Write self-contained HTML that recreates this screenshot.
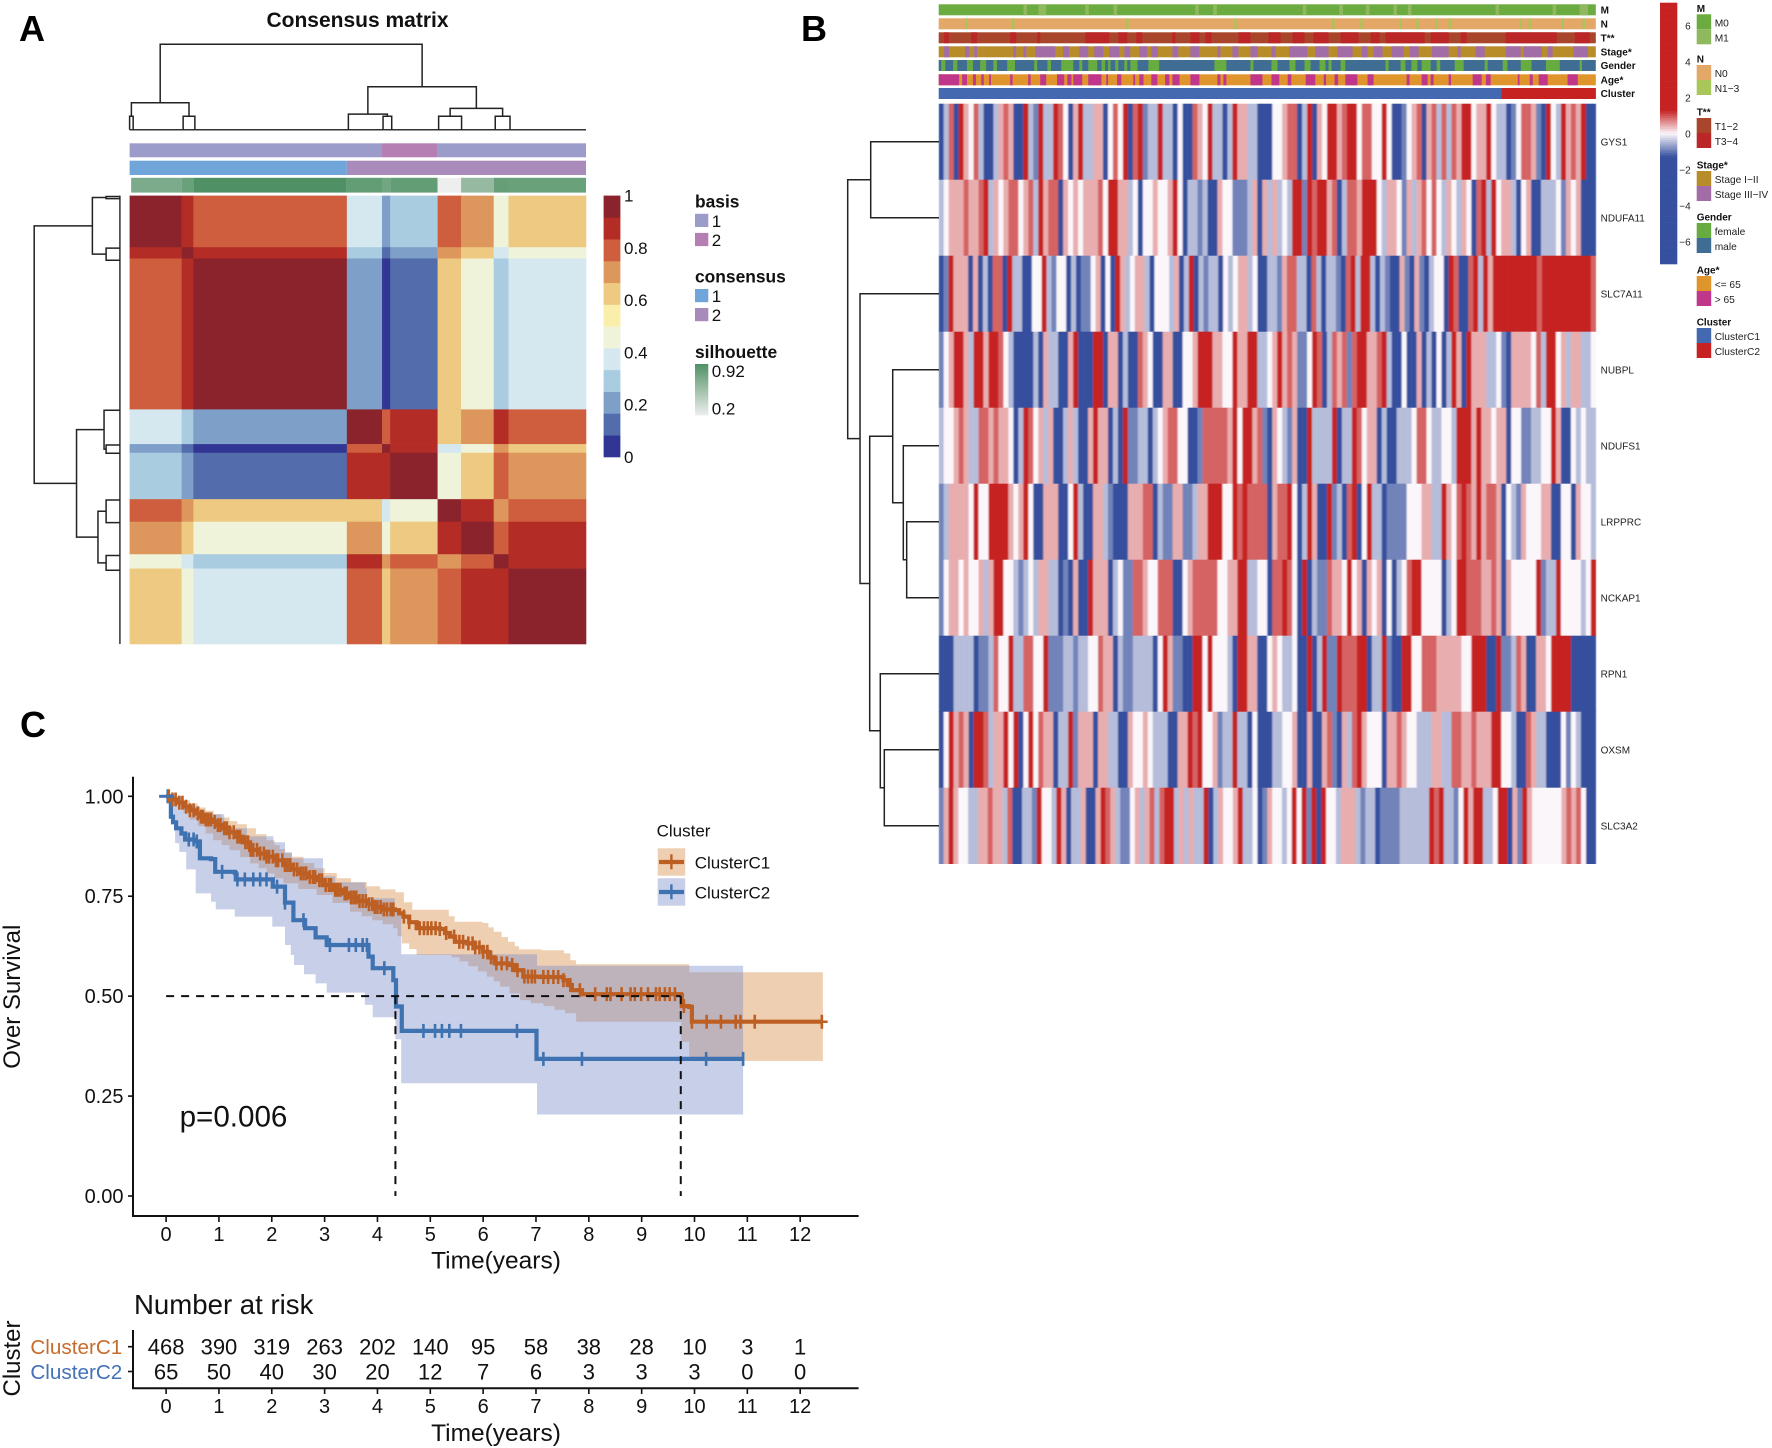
<!DOCTYPE html>
<html lang="en">
<head>
<meta charset="utf-8">
<title>Consensus clustering, heatmap and survival figure</title>
<style>
html,body{margin:0;padding:0;background:#fff;}
svg{display:block;}
text{font-family:"Liberation Sans",sans-serif;fill:#111;}
</style>
</head>
<body>
<svg id="figure" xmlns="http://www.w3.org/2000/svg" width="1772" height="1448" viewBox="0 0 1772 1448">
  <defs>
    <linearGradient id="silGrad" x1="0" y1="0" x2="0" y2="1">
      <stop offset="0" stop-color="#4f9164"/><stop offset="1" stop-color="#eeeeee"/>
    </linearGradient>
    <filter id="softX" x="0" y="0" width="1" height="1">
      <feGaussianBlur stdDeviation="0.8 0"/>
    </filter>
  </defs>
  <rect x="0" y="0" width="1772" height="1448" fill="#ffffff"/>
</svg>
<script>
/* ===== Panel A data ===== */
const blockEdgesX = [254,356,379,680,749,765,858,904,968,997,1149];
const blockEdgesY = [451,570,596,944,1024,1044,1151,1203,1278,1311,1485];
const consensusMatrix = [
 [.96,.875,.79,.375,.21,.29,.79,.71,.46,.625],
 [.875,.96,.875,.29,.125,.21,.71,.625,.375,.46],
 [.79,.875,.96,.21,.04,.125,.625,.46,.29,.375],
 [.375,.29,.21,.96,.79,.875,.625,.71,.875,.79],
 [.21,.125,.04,.79,.96,.875,.375,.46,.71,.625],
 [.29,.21,.125,.875,.875,.96,.46,.625,.79,.71],
 [.79,.71,.625,.625,.375,.46,.96,.875,.71,.79],
 [.71,.625,.46,.71,.46,.625,.875,.96,.79,.875],
 [.46,.375,.29,.875,.71,.79,.71,.79,.96,.875],
 [.625,.46,.375,.79,.625,.71,.79,.875,.875,.96]
];
const consensusPalette = ["#313695","#536cab","#7d9fc8","#a9cce0","#d5e7ef","#eff3d9","#faefaa","#edc981","#dd975c","#ce5e3e","#b32c25","#8a232b"];
const consensusTicks = [0,0.2,0.4,0.6,0.8,1];
const basisSegments = [[254,749,1],[749,858,2],[858,1149,1]];
const consensusSegments = [[254,680,1],[680,1149,2]];
const silhouetteSegments = [[257,356,.72],[356,379,.8],[379,680,.92],[680,749,.83],[749,765,.76],[765,858,.83],[858,904,.2],[904,968,.6],[968,997,.82],[997,1149,.8]];
const topLeaves = [254,261,359,382,683,751,768,860,905,971,1000];
const topMerges = [[-0,-1,.157],[-2,-3,.157],[0,1,.315],[-5,-6,.157],[-4,3,.183],[-7,-8,.157],[-9,-10,.157],[5,6,.249],[4,7,.503],[2,8,1]];
const leftLeaves = [453,458,572,600,946,1026,1045,1153,1205,1281,1315];
const leftMerges = [[-0,-1,.161],[-2,-3,.161],[0,1,.321],[-5,-6,.161],[-4,3,.185],[-7,-8,.161],[-9,-10,.161],[5,6,.256],[4,7,.506],[2,8,1]];

/* ===== Panel B data ===== */
const geneNames = ["GYS1","NDUFA11","SLC7A11","NUBPL","NDUFS1","LRPPRC","NCKAP1","RPN1","OXSM","SLC3A2"];
const exprGYS1 = [-3,-1,2,-3,3,1,0,2,-1,-3,-3,-1,1,2,1,-3,-3,3,-1,-2,3,-1,-1,3,2,0,-3,1,3,-1,-1,1,1,-3,0,2,0,3,-3,2,3,-2,-1,-1,3,-1,-1,-3,0,-3,-3,2,1,0,3,-1,-1,-3,-1,3,1,1,-1,-1,-3,-3,
 -3,0,0,1,2,2,-3,-1,3,-3,1,0,3,3,1,2,3,3,0,2,2,0,0,3,0,-3,-3,-2,0,1,2,-3,1,2,-1,2,-1,2,1,3,3,0,1,1,3,0,-1,-1,-3,-2,0,2,2,1,-2,-3,3,0,-1,3,1,2,1,3,-3,-3];
const exprNDUFA11 = [-1,0,1,1,1,2,1,1,2,3,-1,1,0,1,2,2,0,1,2,-1,3,1,2,2,-3,1,0,1,0,1,1,1,2,0,3,3,1,1,-1,0,-3,0,0,1,0,0,1,3,0,-3,-1,-1,-2,-1,-3,-3,1,0,0,-2,-2,-2,-1,1,-3,1,
 -1,1,-1,0,-1,3,3,-2,3,2,3,3,1,2,-3,-1,2,2,1,3,3,3,0,-1,1,1,0,-2,1,-1,1,2,0,2,0,-1,1,0,-1,1,0,-3,2,3,-1,3,0,1,1,-1,-3,0,1,-3,-3,-1,-1,-1,0,-2,1,0,1,-3,-3,-3];
const exprSLC7A11 = [-3,-2,3,1,1,1,-3,1,-3,-1,-3,2,2,-3,3,-1,-1,-3,-3,0,0,3,-1,-2,0,0,-3,-1,-3,-2,-2,0,1,-3,0,-3,3,1,-1,0,1,1,-1,-3,0,0,0,-1,1,-3,-1,3,-3,-1,-2,-1,-1,-3,0,-1,0,1,1,-1,0,-3,
 -3,-1,-1,-2,1,2,2,-1,-1,-3,2,-1,-3,-1,-1,-2,-3,2,3,-1,3,3,-1,-3,-1,-2,-3,-3,1,-2,-3,1,-2,-3,-1,0,0,-3,3,2,-3,-3,2,3,-1,3,1,3,3,3,3,3,3,3,3,3,2,3,3,3,3,3,3,3,3,3,3,2];
const exprNUBPL = [-2,0,1,3,3,1,-1,3,3,1,3,3,2,0,-1,-3,-3,-3,-3,-1,-3,1,-1,-1,-3,-3,1,3,-3,-3,-3,3,3,-3,1,1,-3,-1,-3,-3,2,1,0,-3,-3,1,1,-3,-3,0,0,1,3,3,3,1,1,0,0,3,1,1,3,3,-1,-1,
 0,1,3,1,2,1,-2,-2,0,3,2,-3,-1,2,1,2,-2,2,3,3,1,1,2,3,-1,-3,-3,0,-3,-3,1,-3,-1,-3,0,-3,-1,3,1,-3,3,1,1,1,-1,-1,0,-2,-3,1,1,1,1,0,2,-1,3,3,0,1,-1,1,1,-1,-1,0];
const exprNDUFS1 = [-1,0,0,1,2,1,-1,-1,2,2,1,2,1,1,0,-3,-1,3,2,0,1,-1,1,-3,-3,-1,1,-1,-3,-3,1,3,1,1,-3,-1,-3,3,-2,-2,-1,-1,-3,-1,0,1,2,2,0,0,-3,-3,-2,2,2,2,2,2,1,3,0,3,3,1,2,-2,
 -3,1,0,-1,-2,1,-3,-3,3,-1,-1,-1,-1,3,-3,-1,-1,3,2,0,1,1,-3,-1,-3,-3,-1,-1,-1,0,2,2,0,-1,-1,0,0,-1,3,3,3,1,3,1,1,0,1,1,-3,0,0,-2,-2,-1,-1,0,0,3,1,-3,-3,0,-1,0,-1,-1];
const exprLRPPRC = [-2,-1,1,1,1,1,0,3,0,0,3,3,3,3,1,0,1,3,0,-3,-3,1,1,1,-3,-3,0,3,-1,-3,-3,1,1,-1,-2,-3,-3,-3,1,1,1,2,2,-3,-1,-2,-2,1,1,-2,-2,-1,1,1,3,3,3,0,0,3,2,3,2,2,2,2,
 -3,1,2,2,3,0,-3,-1,3,1,-3,-3,3,-2,-1,-3,2,3,-3,0,3,-1,-1,-3,-2,-2,-2,-2,0,0,0,1,1,-1,-1,3,1,0,2,3,2,1,3,1,2,2,1,-3,0,-1,-2,1,0,0,0,1,1,-3,-3,0,0,-3,1,0,0,-1];
const exprNCKAP1 = [-2,0,1,1,0,1,0,0,1,-1,1,3,3,0,0,-1,-2,-1,0,-1,1,1,-1,-1,-3,-2,-3,1,-3,-3,3,1,1,1,-3,-1,0,-2,-2,2,2,1,0,0,2,2,2,-3,-3,0,1,2,2,2,2,2,0,0,1,1,3,3,-1,-1,0,0,
 -3,2,2,3,2,0,-3,3,-3,-1,-2,-2,2,1,1,0,3,0,1,-3,1,0,1,-3,0,-3,-1,0,2,3,3,0,0,0,0,-3,-1,0,3,3,2,2,2,1,1,2,1,-3,1,0,0,0,0,0,3,-2,-1,-1,3,0,0,0,0,-1,0,3];
const exprRPN1 = [-3,-3,-3,-1,-1,-1,-1,-3,-2,-2,-1,2,0,0,3,-1,-1,2,2,0,0,3,-2,-2,-2,-1,-1,-2,-1,-1,0,0,2,1,1,-3,-1,-2,-2,-1,-1,-1,-1,-3,0,3,1,-2,-2,-3,-3,3,3,0,3,0,0,0,-1,-3,3,3,1,1,-3,-3,
 0,1,0,-1,-1,0,-3,-3,3,-3,-1,3,-2,-2,3,2,2,2,3,3,-3,-1,-1,3,-2,-3,-3,3,3,0,0,2,2,2,1,1,1,1,1,0,0,3,3,3,-3,-3,3,-2,-2,-1,2,1,-3,-3,1,1,0,3,3,3,3,-3,-3,-3,-3,-3];
const exprOXSM = [-3,0,3,1,2,1,-3,3,3,2,-1,1,1,3,0,3,-3,0,3,0,2,1,1,-3,-1,-1,3,-2,1,1,1,-3,1,1,-1,-1,-3,-3,1,0,0,1,0,-1,-1,-1,-3,-3,1,1,3,2,3,0,0,1,-2,-1,-1,3,-1,-1,-3,0,-3,-3,
 -3,-1,-1,0,0,1,-3,-3,1,-3,-3,1,2,-2,-3,1,-1,2,3,1,0,0,0,-3,1,1,2,1,0,0,-1,-1,-1,1,1,-1,-1,2,2,1,1,2,1,1,1,3,3,0,0,-1,-3,-3,2,1,-1,-1,-3,-3,-3,0,-2,0,-1,-3,-3,-3];
const exprSLC3A2 = [-2,1,3,1,0,0,-1,-1,1,1,2,1,1,-1,2,-3,-3,-1,-1,-2,3,0,0,-1,3,1,-3,-1,-1,1,-3,-3,1,3,2,1,-1,-2,-2,0,1,-1,1,2,-1,2,3,3,-1,1,-1,1,-1,-1,3,-3,-1,1,0,0,1,3,-1,-1,0,-3,
 -2,1,0,0,-1,0,3,0,3,-2,3,-3,3,0,0,-1,1,1,1,-1,-2,-1,-1,-3,-2,-2,-2,-2,-1,-1,-1,-1,-1,-1,3,2,3,-1,-1,-2,0,3,1,3,3,-1,-1,0,3,3,-3,1,-2,3,1,0,0,0,0,0,0,1,2,1,2,0,-3,-3];
const exprRows = [exprGYS1,exprNDUFA11,exprSLC7A11,exprNUBPL,exprNDUFS1,exprLRPPRC,exprNCKAP1,exprRPN1,exprOXSM,exprSLC3A2];
const geneMerges = [[-0,-1,.748],[-5,-6,.354],[-4,1,.391],[-3,2,.507],[-8,-9,.599],[-7,4,.643],[3,5,.759],[-2,6,.865],[0,7,1]];
const exprTicks = [6,4,2,0,-2,-4,-6];

const annotM1 = [[322,328],[347,360],[425,431],[472,478],[608,614],[638,644],[787,793],[848,854],[892,898],[938,944],[962,968],[1108,1114],[1203,1209],[1248,1262]];
const annotN13 = [[225,229],[303,307],[493,497],[673,677],[836,840],[883,887],[948,952],[976,980],[1008,1012],[1030,1034],[1148,1152],[1163,1167],[1218,1222],[1253,1257]];
const annotT34 = [[190,198],[235,245],[300,310],[345,350],[425,465],[480,495],[510,520],[570,575],[600,615],[625,635],[680,700],[730,750],[770,790],[805,830],[850,880],[900,915],[925,990],[1000,1030],[1050,1060],[1125,1210],[1240,1265]];
const annotStage34 = [[190,198],[225,232],[240,245],[305,310],[322,327],[342,375],[388,398],[415,430],[440,455],[465,482],[490,500],[515,528],[535,546],[570,580],[600,615],[645,650],[670,680],[700,712],[735,742],[765,795],[808,830],[845,870],[885,895],[905,920],[935,955],[965,980],[1002,1030],[1045,1050],[1075,1090],[1125,1150],[1155,1185],[1195,1203],[1238,1262]];
const annotFemale = [[185,192],[205,212],[228,238],[250,260],[272,278],[295,308],[340,345],[362,368],[385,405],[415,420],[430,445],[452,458],[463,467],[475,480],[490,495],[500,512],[530,548],[640,660],[700,705],[735,745],[765,775],[790,800],[815,825],[830,835],[850,858],[925,930],[950,958],[968,978],[985,1000],[1010,1016],[1040,1055],[1090,1095],[1120,1128],[1150,1168],[1192,1215],[1248,1252]];
const annotOld = [[181,215],[220,228],[238,243],[252,256],[265,268],[300,304],[330,334],[350,360],[378,390],[395,402],[405,420],[430,452],[460,463],[478,485],[505,508],[515,522],[535,545],[558,565],[570,582],[600,615],[645,650],[655,660],[700,720],[735,748],[762,768],[792,808],[822,826],[840,846],[858,878],[895,905],[960,965],[985,995],[1000,1005],[1030,1034],[1070,1085],[1092,1100],[1145,1148],[1165,1170],[1180,1195],[1228,1245]];
const annotC2 = [[1118,1275]];
const annotNames = ["M","N","T**","Stage*","Gender","Age*","Cluster"];
const annotLevels = [annotM1,annotN13,annotT34,annotStage34,annotFemale,annotOld,annotC2];
const annotBaseColors = ["#6cab3f","#e3a767","#a9452a","#b98c2a","#3f6d94","#e0952c","#4569b0"];
const annotMinorColors = ["#8fb85f","#a9c65a","#bb2626","#a26ca6","#68ab40","#c0368a","#c62222"];
const legendGroups = [["M",["M0","M1"],["#6cab3f","#8fb85f"]],["N",["N0","N1\u22123"],["#e3a767","#a9c65a"]],["T**",["T1\u22122","T3\u22124"],["#a9452a","#bb2626"]],["Stage*",["Stage I\u2212II","Stage III\u2212IV"],["#b98c2a","#a26ca6"]],["Gender",["female","male"],["#68ab40","#3f6d94"]],["Age*",["<= 65","> 65"],["#e0952c","#c0368a"]],["Cluster",["ClusterC1","ClusterC2"],["#4569b0","#c62222"]]];
const legendTitleY = [8.3,59,112,165,217,270,322];

/* ===== Panel C data ===== */
const c1Times = [0,.1,.2,.33,.45,.55,.64,.75,.86,.95,1.05,1.2,1.34,1.45,1.59,1.75,1.9,2.05,2.22,2.38,2.53,2.7,2.85,3.0,3.16,3.32,3.48,3.64,3.8,3.95,4.11,4.33,4.41,4.49,4.6,4.74,5.18,5.28,5.37,5.47,5.69,5.85,6.0,6.1,6.22,6.48,6.6,6.76,7.08,7.52,7.6,7.68,7.87,9.74,9.76,9.9,9.95,12.41];
const c1Surv = [1,.992,.984,.974,.965,.957,.949,.942,.936,.928,.92,.91,.899,.885,.866,.857,.849,.84,.828,.817,.807,.798,.79,.778,.766,.757,.747,.738,.73,.723,.717,.715,.707,.699,.685,.67,.668,.658,.649,.636,.632,.622,.611,.597,.582,.578,.565,.549,.548,.54,.528,.515,.505,.503,.475,.473,.436,.436];
const c1UpperTimes = [0,.15,.3,.45,.6,.75,.9,1.05,1.2,1.35,1.53,1.7,1.9,2.05,2.15,2.25,2.38,2.6,2.8,3.0,3.23,3.5,3.8,4.05,4.34,4.5,4.66,5.25,5.35,5.46,5.99,6.1,6.2,6.35,6.47,6.6,6.68,7.1,7.53,7.65,7.76,9.74,9.9,12.43];
const c1Upper = [1,.997,.99,.982,.972,.964,.955,.947,.938,.93,.92,.905,.89,.878,.868,.858,.849,.833,.82,.808,.795,.785,.775,.767,.76,.735,.716,.716,.70,.686,.683,.672,.661,.648,.636,.625,.617,.615,.607,.59,.58,.58,.56,.56];
const c1LowerTimes = [0,.15,.33,.45,.6,.75,.89,1.05,1.2,1.4,1.59,1.75,1.9,2.05,2.22,2.5,2.85,3.15,3.48,3.7,3.9,4.1,4.3,4.38,4.46,4.6,4.74,5.25,5.4,5.55,5.72,5.9,6.07,6.2,6.32,6.5,6.7,6.9,7.14,7.35,7.55,7.76,9.75,9.9,12.43];
const c1Lower = [1,.98,.958,.942,.925,.907,.89,.878,.865,.848,.832,.82,.807,.795,.782,.768,.753,.733,.711,.70,.69,.68,.67,.65,.632,.618,.603,.603,.597,.587,.575,.562,.549,.537,.524,.507,.49,.482,.475,.466,.457,.436,.386,.338,.338];
const c2Times = [0,.09,.13,.19,.29,.36,.55,.64,.85,.93,1.3,1.32,1.97,2.02,2.25,2.38,2.41,2.63,2.83,3.04,3.83,3.91,4.30,4.35,4.46,7.01,10.92];
const c2Surv = [1,.949,.935,.92,.907,.892,.887,.845,.843,.811,.808,.792,.792,.774,.734,.734,.69,.67,.647,.628,.599,.57,.54,.474,.413,.343,.343];
const c2UpperTimes = [0,.29,.64,1.1,1.53,2.03,2.25,2.38,2.97,3.2,3.77,3.8,4.33,4.45,7.02,10.92];
const c2Upper = [1,.975,.955,.92,.9,.885,.86,.845,.80,.785,.77,.745,.71,.605,.576,.576];
const c2LowerTimes = [0,.09,.17,.25,.38,.56,.65,.85,.94,1.3,2.01,2.25,2.36,2.42,2.61,2.83,3.04,3.76,3.91,4.34,4.45,7.02,10.92];
const c2Lower = [1,.95,.883,.861,.817,.757,.757,.736,.717,.699,.674,.628,.603,.578,.555,.532,.509,.478,.447,.392,.282,.204,.204];
const c1Censor = [.05,.12,.18,.25,.31,.38,.45,.52,.6,.66,.7,.75,.8,.85,.92,.98,1.03,1.1,1.15,1.2,1.28,1.35,1.4,1.5,1.55,1.6,1.65,1.72,1.78,1.85,1.9,1.95,2.02,2.08,2.12,2.2,2.25,2.3,2.35,2.42,2.48,2.55,2.6,2.65,2.72,2.78,2.82,2.9,2.95,3.02,3.08,3.12,3.2,3.25,3.3,3.38,3.42,3.5,3.55,3.6,3.66,3.72,3.78,3.84,3.9,3.95,4.0,4.06,4.12,4.18,4.25,4.3,4.5,4.6,4.8,4.88,4.95,5.02,5.1,5.18,5.3,5.45,5.55,5.62,5.72,5.8,5.85,5.93,6.0,6.08,6.15,6.25,6.35,6.45,6.55,6.65,6.78,6.85,6.92,6.98,7.14,7.23,7.33,7.42,7.52,7.65,7.83,8.12,8.34,8.41,8.62,8.79,8.87,8.99,9.12,9.27,9.34,9.44,9.53,9.63,9.8,9.95,10.23,10.5,10.78,10.87,11.14,12.41];
const c2Censor = [.03,.43,.52,.58,1.06,1.35,1.49,1.65,1.78,1.9,2.1,2.25,2.6,3.1,3.46,3.59,3.72,3.8,4.13,4.87,5.09,5.22,5.36,5.58,6.64,7.14,7.87,10.22,10.92];
const medianTimes = [4.34,9.74];
const xTicks = [0,1,2,3,4,5,6,7,8,9,10,11,12];
const yTicks = [0,.25,.5,.75,1];
const riskC1 = [468,390,319,263,202,140,95,58,38,28,10,3,1];
const riskC2 = [65,50,40,30,20,12,7,6,3,3,3,0,0];

/* ===== Helpers ===== */
const SVGNS = "http://www.w3.org/2000/svg";
const root = document.getElementById("figure");
function mk(tag, attrs, parent){
  const e = document.createElementNS(SVGNS, tag);
  for(const k in attrs){ e.setAttribute(k, attrs[k]); }
  (parent || root).appendChild(e);
  return e;
}
function group(parent){ return mk("g", {}, parent); }
function lineEl(p,x1,y1,x2,y2,stroke,w,dash){
  const a = {x1:x1,y1:y1,x2:x2,y2:y2,stroke:stroke,"stroke-width":w};
  if(dash){ a["stroke-dasharray"] = dash; }
  return mk("line", a, p);
}
function rectEl(p,x,y,w,h,fill){ return mk("rect",{x:x,y:y,width:w,height:h,fill:fill},p); }
function textEl(p,x,y,s,size,anchor,weight,fill){
  const t = mk("text",{x:x,y:y,"font-size":size,"text-anchor":anchor||"start","font-weight":weight||"normal"},p);
  if(fill){ t.style.fill = fill; }
  t.textContent = s;
  return t;
}
function drawDendro(p, leaves, merges, project, name){
  const centers = [];
  const heights = [];
  function info(i){ return i<0 || Object.is(i,-0) ? [leaves[-i],0] : [centers[i],heights[i]]; }
  merges.forEach(function(m){
    const a = info(m[0]), b = info(m[1]);
    const pts = [project(a[0],a[1]),project(a[0],m[2]),project(b[0],m[2]),project(b[0],b[1])];
    const pl = mk("polyline",{points:pts.map(function(q){return q.join(",");}).join(" "),fill:"none",stroke:"#222","stroke-width":1.5},p);
    
    
    centers.push((a[0]+b[0])/2);
    heights.push(m[2]);
  });
}

/* ===== Panel letters ===== */
[["A",19,41],["B",801,41],["C",20,737]].forEach(function(d){
  const t = textEl(root,d[1],d[2],d[0],36,"start","bold","#000");
  
  
});

/* ===== Panel A ===== */
const gA = group();


const ax = function(r){ return 129.6 + (r-254)*456.4/895; };
const ay = function(r){ return 195.6 + (r-451)*448.4/1034; };
function levelColor(v){ return consensusPalette[Math.min(11,Math.floor(v*12))]; }

const titleA = textEl(gA,357.5,27,"Consensus matrix",21,"middle","bold","#111");



consensusMatrix.forEach(function(row,i){
  row.forEach(function(v,j){
    const c = rectEl(gA,ax(blockEdgesX[j]),ay(blockEdgesY[i]),ax(blockEdgesX[j+1])-ax(blockEdgesX[j])+.3,ay(blockEdgesY[i+1])-ay(blockEdgesY[i])+.3,levelColor(v));
    
    
  });
});

basisSegments.forEach(function(s){
  const r = rectEl(gA,ax(s[0]),143.3,ax(s[1])-ax(s[0]),14,s[2]===1?"#9c9ccb":"#b57fb4");
  
  
});
consensusSegments.forEach(function(s){
  const r = rectEl(gA,ax(s[0]),160.7,ax(s[1])-ax(s[0]),14.3,s[2]===1?"#70a5da":"#a98bbb");
  
  
});
function silColor(v){
  const t = (v-0.2)/0.72;
  const a=[238,238,238], b=[79,145,100];
  return "rgb("+a.map(function(c,i){return Math.round(c+(b[i]-c)*t);}).join(",")+")";
}
silhouetteSegments.forEach(function(s){
  const r = rectEl(gA,ax(s[0]),177.8,ax(s[1])-ax(s[0]),14.8,silColor(s[2]));
  
  
});

const topBase = lineEl(gA,ax(254),129.7,ax(1149),129.7,"#333",1.5);


const leftBase = lineEl(gA,119.9,195.6,119.9,644,"#333",1.5);


drawDendro(gA,topLeaves,topMerges,function(pos,h){ return [ax(pos),129.7-h*85.4]; },'top-dendrogram-branch');
drawDendro(gA,leftLeaves,leftMerges,function(pos,h){ return [119.9-h*85.7,ay(pos)]; },'left-dendrogram-branch');

/* colour bar */
const cbTop = 195.6, cbBot = 457, cbH = (cbBot-cbTop)/12;
consensusPalette.forEach(function(col,i){
  const r = rectEl(gA,603.6,cbBot-(i+1)*cbH,16.8,cbH+.3,col);
  
  
});
consensusTicks.forEach(function(v){
  const t = textEl(gA,624,cbBot-v*(cbBot-cbTop)+6,String(v),17,"start","normal","#111");
  
  
});
[["basis",207.5],["consensus",282.5],["silhouette",358]].forEach(function(d){
  const t = textEl(gA,695,d[1],d[0],17.4,"start","bold","#111");
  
  
});
[[213.8,"#9c9ccb","1"],[232.9,"#b57fb4","2"],[289,"#70a5da","1"],[308,"#a98bbb","2"]].forEach(function(d){
  const r = rectEl(gA,695,d[0],13.3,13.2,d[1]);
  
  
  const t = textEl(gA,711.7,d[0]+13,d[2],17,"start","normal","#111");
  
  
});
const silBar = rectEl(gA,695,364,13.3,51.4,"url(#silGrad)");


[["0.92",377],["0.2",414.5]].forEach(function(d){
  const t = textEl(gA,711.7,d[1],d[0],17,"start","normal","#111");
  
  
});

/* ===== Panel B ===== */
const gB = group();


const hmLeft = 938.7, hmWidth = 657.1, hmTop = 103.7, rowH = 76;
const annX = function(z){ return hmLeft + (z-181)*hmWidth/1094; };
const annTopY = [4.3,18.3,32.3,46.3,60,74.3,88];
function zColor(z){
  const red=[198,34,34], white=[250,246,250], blue=[53,80,158];
  const t = Math.min(1,Math.abs(z)/1.3), tgt = z>=0?red:blue;
  return "rgb("+white.map(function(c,i){return Math.round(c+(tgt[i]-c)*t);}).join(",")+")";
}
annotLevels.forEach(function(segs,i){
  const b = rectEl(gB,hmLeft,annTopY[i],hmWidth,11,annotBaseColors[i]);
  
  
  segs.forEach(function(s){
    const r = rectEl(gB,annX(s[0]),annTopY[i],annX(s[1])-annX(s[0]),11,annotMinorColors[i]);
    
    
  });
  const t = textEl(gB,1600.6,annTopY[i]+9,annotNames[i],10,"start","bold","#111");
  
  
});
exprRows.forEach(function(vals,i){
  const w = hmWidth/vals.length;
  const rowG = mk("g",{filter:"url(#softX)"},gB);
  
  
  vals.forEach(function(v,j){
    const c = rectEl(rowG,hmLeft+j*w,hmTop+i*rowH,w+.3,rowH+.3,zColor(v*0.45));
    
    
  });
  const g = textEl(gB,1600.6,hmTop+i*rowH+rowH/2+3.6,geneNames[i],10,"start","normal","#222");
  
  
});
const geneLeaves = geneNames.map(function(_,i){ return i; });
drawDendro(gB,geneLeaves,geneMerges,function(pos,h){ return [939-h*91.3,hmTop+pos*rowH+rowH/2]; },'gene-dendrogram-branch');

/* expression colour bar */
const ebTop = 2.7, ebBot = 264, zY = function(z){ return 133.7 - z*18; };
const ebSteps = 40;
const ebStep = (ebBot-ebTop)/ebSteps;
for(let i=0;i<ebSteps*3;i++){
  const y = ebTop + i*ebStep/3;
  const z = (133.7-(y+ebStep/6))/18;
  const r = rectEl(gB,1660,y,17.3,ebStep/3+.3,zColor(z));
  
  
}
exprTicks.forEach(function(v){
  const t = textEl(gB,1690.7,zY(v)+3.6,v<0?"\u2212"+(-v):String(v),10,"end","normal","#222");
  
  
});
legendGroups.forEach(function(grp,i){
  const ty = legendTitleY[i];
  const t = textEl(gB,1696.7,ty+3.6,grp[0],10,"start","bold","#111");
  
  
  grp[1].forEach(function(lab,k){
    const sy = ty+6+k*15;
    const r = rectEl(gB,1696.7,sy,14.5,15,grp[2][k]);
    
    
    const l = textEl(gB,1714.7,sy+12,lab,10.2,"start","normal","#222");
    
    
  });
});

/* ===== Panel C ===== */
const gC = group();


const xT = function(t){ return 166.1 + t*52.84; };
const yS = function(s){ return 1196 - s*399.7; };
const ORANGE = "#bd5f22", BLUE = "#3f72b0";
function stepPts(times, vals){
  const pts = [];
  times.forEach(function(t,i){
    if(i>0){ pts.push([xT(t),yS(vals[i-1])]); }
    pts.push([xT(t),yS(vals[i])]);
  });
  return pts;
}
function lookup(times, vals, t){
  let v = vals[0];
  for(let i=0;i<times.length;i++){ if(times[i]<=t){ v = vals[i]; } }
  return v;
}
function ptStr(pts){ return pts.map(function(p){return p[0].toFixed(1)+","+p[1].toFixed(1);}).join(" "); }

function drawBand(ut,u,lt,l,fill,name){
  const pts = stepPts(ut,u).concat(stepPts(lt,l).reverse());
  const b = mk("polygon",{points:ptStr(pts),fill:fill,"fill-opacity":.42,stroke:"none"},gC);
  
  
}
drawBand(c1UpperTimes,c1Upper,c1LowerTimes,c1Lower,"#d68c45",'cluster-c1-confidence-band');
drawBand(c2UpperTimes,c2Upper,c2LowerTimes,c2Lower,"#7c8dc8",'cluster-c2-confidence-band');

function drawCurve(times,vals,col,name){
  const c = mk("polyline",{points:ptStr(stepPts(times,vals)),fill:"none",stroke:col,"stroke-width":4.2},gC);
  
  
}
function drawCensor(cens,times,vals,col,name){
  cens.forEach(function(t){
    const s = lookup(times,vals,t);
    const v = lineEl(gC,xT(t),yS(s)-7,xT(t),yS(s)+7,col,2.6);
    
    
  });
}
drawCurve(c2Times,c2Surv,BLUE,'cluster-c2-survival-line');
drawCensor(c2Censor,c2Times,c2Surv,BLUE,'cluster-c2-censor-mark');
drawCurve(c1Times,c1Surv,ORANGE,'cluster-c1-survival-line');
drawCensor(c1Censor,c1Times,c1Surv,ORANGE,'cluster-c1-censor-mark');
const startH = lineEl(gC,xT(0)-7,yS(1),xT(0)+8,yS(1),BLUE,3);


const endC1 = lineEl(gC,xT(12.41),yS(.436),xT(12.52),yS(.436),ORANGE,2.5);



const medH = lineEl(gC,xT(0),yS(.5),xT(medianTimes[1]),yS(.5),"#111",2,"8 7");


medianTimes.forEach(function(t){
  const v = lineEl(gC,xT(t),yS(.5),xT(t),yS(0),"#111",2,"8 7");
  
  
});

/* axes */
const yAxis = lineEl(gC,133,776.7,133,1217,"#111",2);


const xAxis = lineEl(gC,132,1216,858.6,1216,"#111",2);


yTicks.forEach(function(v){
  const tk = lineEl(gC,128,yS(v),133,yS(v),"#111",1.6);
  
  
  const t = textEl(gC,123.5,yS(v)+7,v.toFixed(2),20,"end","normal","#111");
  
  
});
xTicks.forEach(function(v){
  const tk = lineEl(gC,xT(v),1216,xT(v),1222,"#111",1.6);
  
  
  const t = textEl(gC,xT(v),1241,String(v),20,"middle","normal","#111");
  
  
});
const xTitle = textEl(gC,496,1268.5,"Time(years)",24.5,"middle","normal","#111");


const yTitle = textEl(gC,0,0,"Over Survival",24,"middle","normal","#111");
yTitle.setAttribute('transform','translate(20,996.7) rotate(-90)');


const pLabel = textEl(gC,179.6,1126.7,"p=0.006",29.6,"start","normal","#111");



/* legend */
const lgTitle = textEl(gC,656.6,836.5,"Cluster",17,"start","normal","#111");


[[848.3,"#d68c45",ORANGE,"ClusterC1"],[878.3,"#7c8dc8",BLUE,"ClusterC2"]].forEach(function(d){
  const r = rectEl(gC,657.7,d[0],27.5,27.4,d[1]);
  r.setAttribute('fill-opacity','.42');
  
  
  const h = lineEl(gC,659,d[0]+13.7,684,d[0]+13.7,d[2],4.2);
  
  
  const v = lineEl(gC,671.4,d[0]+6,671.4,d[0]+21,d[2],2.4);
  
  
  const t = textEl(gC,694.7,d[0]+20,d[3],17,"start","normal","#111");
  
  
});

/* risk table */
const gR = group();


const riskTitle = textEl(gR,134,1314,"Number at risk",27.6,"start","normal","#111");


const rAxisY = lineEl(gR,133,1330,133,1389,"#111",2);


const rAxisX = lineEl(gR,132,1388.3,858.6,1388.3,"#111",2);


[[1346.7,riskC1,"ClusterC1","#c66d2d"],[1371.5,riskC2,"ClusterC2","#4472b8"]].forEach(function(d){
  const tk = lineEl(gR,128,d[0],133,d[0],"#111",1.6);
  
  
  const l = textEl(gR,122.3,d[0]+7.4,d[2],20.7,"end","normal",d[3]);
  
  
  d[1].forEach(function(n,i){
    const t = textEl(gR,xT(xTicks[i]),d[0]+8,String(n),22,"middle","normal","#111");
    
    
  });
});
xTicks.forEach(function(v){
  const tk = lineEl(gR,xT(v),1388.3,xT(v),1394,"#111",1.6);
  
  
  const t = textEl(gR,xT(v),1413,String(v),20,"middle","normal","#111");
  
  
});
const rXTitle = textEl(gR,496,1441,"Time(years)",24.5,"middle","normal","#111");


const rYTitle = textEl(gR,0,0,"Cluster",24,"middle","normal","#111");
rYTitle.setAttribute('transform','translate(20,1358.5) rotate(-90)');


</script>
</body>
</html>
